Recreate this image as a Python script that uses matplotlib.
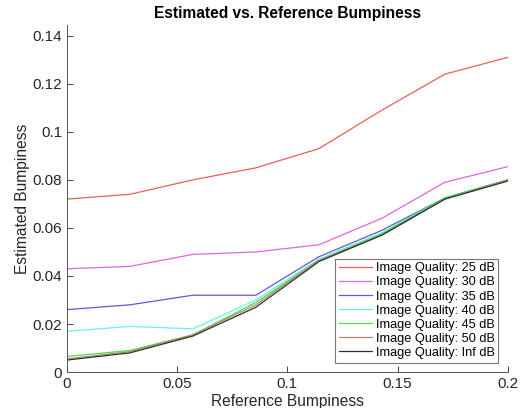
import numpy as np
import matplotlib
matplotlib.use("Agg")
import matplotlib.pyplot as plt

plt.rcParams['font.family'] = ['Liberation Sans', 'DejaVu Sans']

ref = [0, 0.2/7, 0.4/7, 0.6/7, 0.8/7, 1.0/7, 1.2/7, 0.2]

q25 = [0.072, 0.074, 0.080, 0.085, 0.093, 0.109, 0.124, 0.131]
q30 = [0.043, 0.044, 0.049, 0.050, 0.053, 0.064, 0.079, 0.0855]
q35 = [0.026, 0.028, 0.032, 0.032, 0.048, 0.059, 0.0725, 0.080]
q40 = [0.017, 0.019, 0.018, 0.030, 0.047, 0.058, 0.0725, 0.080]
q45 = [0.0065, 0.009, 0.0155, 0.029, 0.0465, 0.0575, 0.0725, 0.080]
q50 = [0.0055, 0.0085, 0.0155, 0.028, 0.0465, 0.057, 0.072, 0.080]
qinf = [0.005, 0.008, 0.015, 0.027, 0.046, 0.057, 0.072, 0.0795]

series = [q25, q30, q35, q40, q45, q50, qinf]
labels = ['Image Quality: 25 dB', 'Image Quality: 30 dB', 'Image Quality: 35 dB',
          'Image Quality: 40 dB', 'Image Quality: 45 dB', 'Image Quality: 50 dB',
          'Image Quality: Inf dB']
cores = ['#e8605a', '#e066e0', '#5a5ad8', '#66f0f0', '#44e044', '#b08868', '#303030']

fig = plt.figure(figsize=(5.23, 4.08), dpi=100)
ax = fig.add_axes([0.128, 0.088, 0.843, 0.851])

for s, lab, c in zip(series, labels, cores):
    ax.plot(ref, s, color=c, linewidth=0.9, label=lab)

ax.set_xlim(0, 0.2)
ax.set_ylim(0, 0.1445)
ax.set_xticks([0, 0.05, 0.1, 0.15, 0.2])
ax.set_xticklabels(['0', '0.05', '0.1', '0.15', '0.2'])
ax.set_yticks([0, 0.02, 0.04, 0.06, 0.08, 0.1, 0.12, 0.14])
ax.set_yticklabels(['0', '0.02', '0.04', '0.06', '0.08', '0.1', '0.12', '0.14'])
ax.tick_params(direction='in', labelsize=11, colors='#262626', length=4, width=0.6)
for lado in ['top', 'right']:
    ax.spines[lado].set_visible(False)
for lado in ['left', 'bottom']:
    ax.spines[lado].set_color('#555555')
    ax.spines[lado].set_linewidth(0.7)

ax.set_xlabel('Reference Bumpiness', fontsize=11.2, labelpad=2, color='#262626')
ax.set_ylabel('Estimated Bumpiness', fontsize=11.2, labelpad=2, color='#262626')
ax.set_title('Estimated vs. Reference Bumpiness', fontsize=11.2, fontweight='bold', pad=5)

leg = ax.legend(loc='lower right', fontsize=9.2, frameon=True, fancybox=False,
                edgecolor='#555555', handlelength=2.6, handletextpad=0.25,
                labelspacing=0.16, borderpad=0.3, borderaxespad=0.75)
leg.get_frame().set_linewidth(0.8)

fig.savefig('out.png', dpi=100)
